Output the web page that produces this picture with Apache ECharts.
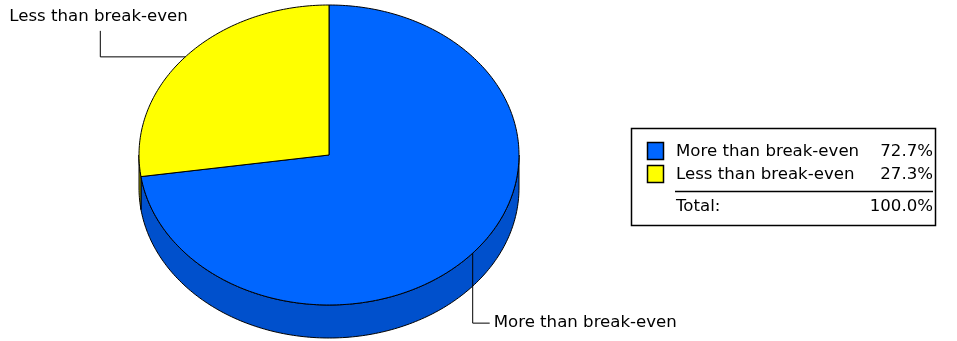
<!DOCTYPE html>
<html>
<head>
<meta charset="utf-8">
<script src="https://cdn.jsdelivr.net/npm/echarts@6/dist/echarts.min.js"></script>
<style>
  html, body { margin: 0; padding: 0; background: #fff; }
  #chart { width: 957px; height: 341px; }
</style>
</head>
<body>
<div id="chart"></div>
<script>
// Slice names and their shares (percent)
const categories = ['More than break-even', 'Less than break-even'];
const shares = [72.7, 27.3];
const totalLabel = 'Total:';

// Styling
const topColors = ['#0066ff', '#ffff00'];
const sideColors = ['#0050cc', '#a8a800'];
const FONT = '"DejaVu Sans", Tahoma, sans-serif';
const FONT_SIZE = 16.6;

// Pie geometry (pixels)
const CX = 329, CY = 155, RX = 190, RY = 150, DEPTH = 33;

const total = shares.reduce((a, b) => a + b, 0);
const DEG = Math.PI / 180;

// Slices run clockwise from 12 o'clock; angles are in math degrees
function sliceRange(i) {
  let cum = 0;
  for (let k = 0; k < i; k++) cum += shares[k];
  const start = 90 - 360 * cum / total;
  const end = start - 360 * shares[i] / total;
  return [end, start];
}
function ept(a, dy) {
  return [CX + RX * Math.cos(a * DEG), CY - RY * Math.sin(a * DEG) + (dy || 0)];
}
function arcPoints(a0, a1, dy) {
  const pts = [];
  const n = Math.max(2, Math.ceil(Math.abs(a1 - a0)));
  for (let j = 0; j <= n; j++) pts.push(ept(a0 + (a1 - a0) * j / n, dy));
  return pts;
}

function renderSide(params, api) {
  const i = params.dataIndex;
  const [a, b] = sliceRange(i);
  const children = [];
  // front-facing wall is where the angle lies in [-180, 0] (+ 360k)
  for (let k = -2; k <= 1; k++) {
    const lo = Math.max(a, -180 + 360 * k);
    const hi = Math.min(b, 360 * k);
    if (hi - lo > 0.01) {
      const top = arcPoints(lo, hi, 0);
      const bot = arcPoints(hi, lo, DEPTH);
      children.push({
        type: 'polygon',
        shape: { points: top.concat(bot) },
        style: { fill: sideColors[i], stroke: '#000', lineWidth: 1 }
      });
    }
  }
  return { type: 'group', children };
}

function renderTop(params, api) {
  const i = params.dataIndex;
  const [a, b] = sliceRange(i);
  const pts = [[CX, CY]].concat(arcPoints(b, a, 0));
  const mid = (a + b) / 2;
  const [ax, ay] = ept(mid, 0);
  const children = [{
    type: 'polygon',
    shape: { points: pts },
    style: { fill: topColors[i], stroke: '#000', lineWidth: 1 }
  }];
  let line, text;
  if (Math.sin(mid * DEG) >= 0) {
    // upper slices: leader goes outward horizontally, then up to the label
    const ex = ax - 85, ey = ay;
    line = [[ax, ay], [ex, ey], [ex, ey - 26]];
    text = { x: ex - 91, y: ey - 40, align: 'left' };
  } else {
    // lower slices: leader goes down, then outward to the label
    const ex = ax, ey = ay + 70;
    line = [[ax, ay], [ex, ey], [ex + 17, ey]];
    text = { x: ex + 21, y: ey, align: 'left' };
  }
  children.push({
    type: 'polyline',
    shape: { points: line },
    style: { stroke: '#000', lineWidth: 1, fill: null }
  });
  children.push({
    type: 'text',
    x: text.x, y: text.y,
    style: {
      text: categories[i], fill: '#000', font: FONT_SIZE + 'px ' + FONT,
      align: text.align, verticalAlign: 'middle'
    }
  });
  return { type: 'group', children };
}

// Legend table with percentages and total
const LX = 631, LY = 128, LW = 304, LH = 97;
const legendGraphics = [{
  type: 'rect',
  shape: { x: LX + 0.5, y: LY + 0.5, width: LW, height: LH },
  style: { fill: '#fff', stroke: '#000', lineWidth: 1.5 }
}];
categories.forEach((name, i) => {
  const rowY = 152 + i * 23;
  legendGraphics.push({
    type: 'rect',
    shape: { x: 647.5, y: rowY - 9.5, width: 16, height: 17 },
    style: { fill: topColors[i], stroke: '#000', lineWidth: 1.5 }
  });
  legendGraphics.push({
    type: 'text', x: 676, y: rowY,
    style: { text: name, fill: '#000', font: FONT_SIZE + 'px ' + FONT, verticalAlign: 'middle' }
  });
  legendGraphics.push({
    type: 'text', x: 933, y: rowY,
    style: { text: (shares[i] / total * 100).toFixed(1) + '%', fill: '#000',
             font: FONT_SIZE + 'px ' + FONT, align: 'right', verticalAlign: 'middle' }
  });
});
legendGraphics.push({
  type: 'line',
  shape: { x1: 675, y1: 191.5, x2: 933, y2: 191.5 },
  style: { stroke: '#000', lineWidth: 1.5 }
});
legendGraphics.push({
  type: 'text', x: 676, y: 207,
  style: { text: totalLabel, fill: '#000', font: FONT_SIZE + 'px ' + FONT, verticalAlign: 'middle' }
});
legendGraphics.push({
  type: 'text', x: 933, y: 207,
  style: { text: (100).toFixed(1) + '%', fill: '#000', font: FONT_SIZE + 'px ' + FONT,
           align: 'right', verticalAlign: 'middle' }
});

const chart = echarts.init(document.getElementById('chart'), null, { renderer: 'canvas' });
const seriesData = shares.map((v, i) => ({ name: categories[i], value: [i, v] }));
chart.setOption({
  backgroundColor: '#fff',
  animation: false,
  graphic: legendGraphics,
  series: [
    { type: 'custom', coordinateSystem: 'none', z: 1, silent: true,
      renderItem: renderSide, data: seriesData },
    { type: 'custom', coordinateSystem: 'none', z: 2, silent: true,
      renderItem: renderTop, data: seriesData }
  ]
});
</script>
</body>
</html>
